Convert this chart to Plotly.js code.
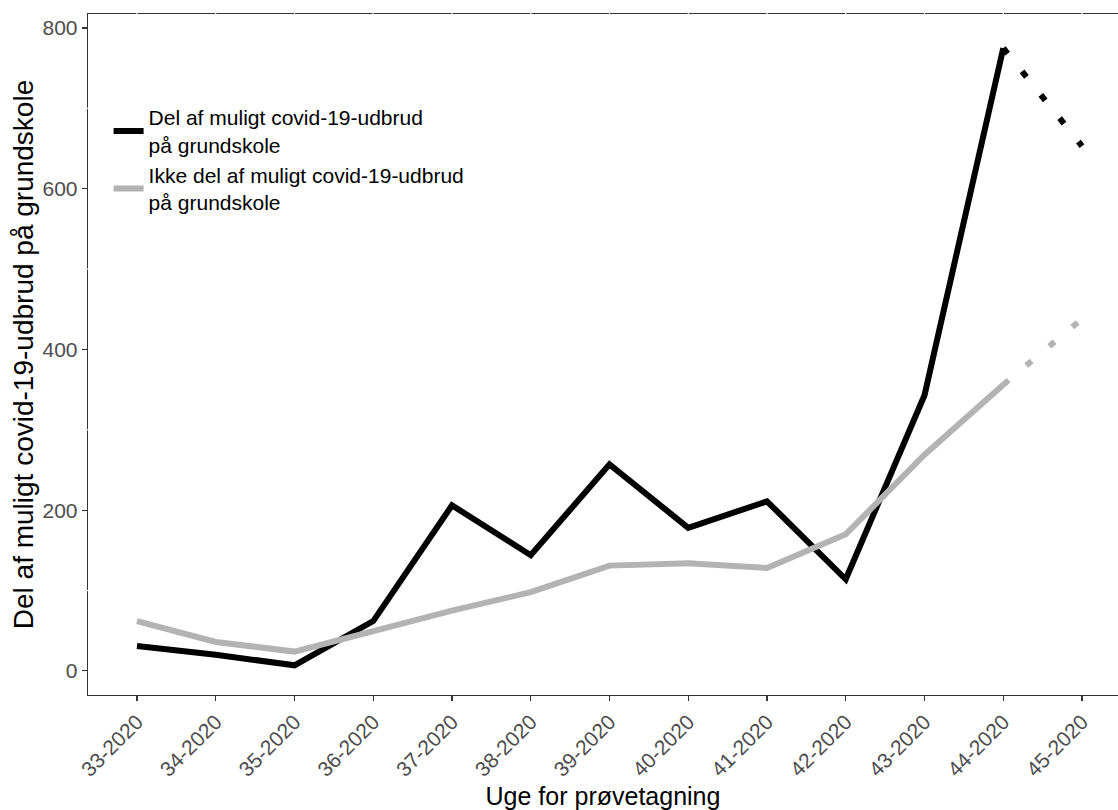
<!DOCTYPE html>
<html>
<head>
<meta charset="utf-8">
<script src="https://cdn.plot.ly/plotly-3.0.1.min.js"></script>
<style>html,body{margin:0;padding:0;background:#fff;overflow:hidden}#chart{width:1118px;height:810px}</style>
</head>
<body>
<div id="chart"></div>
<script>
// Data
const weeks = ["33-2020","34-2020","35-2020","36-2020","37-2020","38-2020","39-2020","40-2020","41-2020","42-2020","43-2020","44-2020","45-2020"];
const delAf = [31, 20, 7, 62, 206, 144, 257, 178, 211, 114, 343, 775, 653];
const ikkeDelAf = [62, 36, 24, 49, 75, 98, 131, 134, 128, 170, 269, 356, 438];
const seriesNames = ["Del af muligt covid-19-udbrud<br>på grundskole", "Ikke del af muligt covid-19-udbrud<br>på grundskole"];
const yTicks = [0, 200, 400, 600, 800];
const yMinor = [100, 300, 500, 700];

const black = "#000000", grey = "#b3b3b3";
const nSolid = weeks.length - 1; // last segment is dotted (incomplete week)

function solid(vals, color, name) {
  return {x: weeks.slice(0, nSolid), y: vals.slice(0, nSolid), type: "scatter", mode: "lines",
    name: name, line: {color: color, width: 6}, hoverinfo: "x+y"};
}
function dotted(vals, color) {
  return {x: weeks.slice(nSolid - 1), y: vals.slice(nSolid - 1), type: "scatter", mode: "lines",
    showlegend: false, line: {color: color, width: 6, dash: "7px,23px"}, hoverinfo: "x+y"};
}

const data = [
  solid(delAf, black, seriesNames[0]),
  solid(ikkeDelAf, grey, seriesNames[1]),
  dotted(delAf, black),
  dotted(ikkeDelAf, grey)
];

// white grid marks cutting the panel border (as in the reference)
const shapes = [];
weeks.forEach(w => shapes.push({type: "line", xref: "x", yref: "paper", x0: w, x1: w, y0: 0.996, y1: 1.004,
  line: {color: "#ffffff", width: 1.2}, layer: "above"}));
yMinor.forEach(v => shapes.push({type: "line", xref: "paper", yref: "y", x0: -0.002, x1: 0.002, y0: v, y1: v,
  line: {color: "#ffffff", width: 1.2}, layer: "above"}));

const font = "Liberation Sans, Arial, sans-serif";
const layout = {
  width: 1118, height: 810,
  margin: {l: 88, r: 0, t: 14, b: 115},
  paper_bgcolor: "#ffffff", plot_bgcolor: "#ffffff",
  font: {family: font, color: "#000"},
  showlegend: true,
  legend: {x: 0.02, y: 0.878, xanchor: "left", yanchor: "top", bgcolor: "rgba(0,0,0,0)",
    font: {family: font, size: 21, color: "#000"}, tracegroupgap: 0},
  xaxis: {
    type: "category", categoryorder: "array", categoryarray: weeks,
    range: [-0.622, 12.457],
    showline: true, linecolor: "#333333", linewidth: 1.3, mirror: true,
    showgrid: false, zeroline: false,
    ticks: "outside", ticklen: 5, tickcolor: "#333333", tickwidth: 1.2,
    tickangle: -45, tickfont: {family: font, size: 21, color: "#4d4d4d"},
    title: {text: "Uge for prøvetagning", font: {family: font, size: 25, color: "#000"}, standoff: 10},
    automargin: false
  },
  yaxis: {
    range: [-30, 817.4],
    tickvals: yTicks, ticktext: yTicks.map(String),
    showline: true, linecolor: "#333333", linewidth: 1.3, mirror: false,
    showgrid: false, zeroline: false,
    ticks: "outside", ticklen: 5, tickcolor: "#333333", tickwidth: 1.2,
    tickfont: {family: font, size: 21, color: "#4d4d4d"},
    title: {text: "Del af muligt covid-19-udbrud på grundskole", font: {family: font, size: 28, color: "#000"}, standoff: 0},
    automargin: false
  },
  shapes: shapes
};

Plotly.newPlot("chart", data, layout, {displayModeBar: false, staticPlot: true});
</script>
</body>
</html>
